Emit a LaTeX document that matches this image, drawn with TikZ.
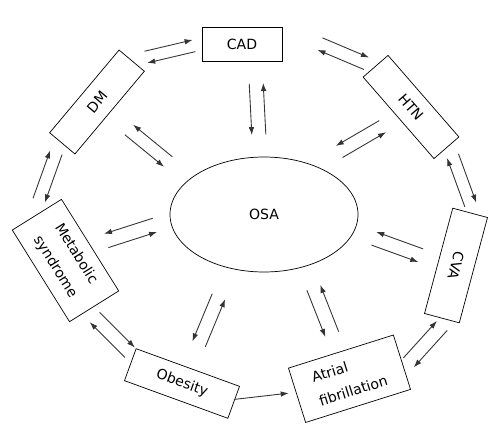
\documentclass[tikz,border=0pt]{standalone}
\usepackage{fontspec}
\setmainfont{DejaVu Sans}
\usetikzlibrary{arrows.meta}
\usetikzlibrary{shapes.geometric}
\usetikzlibrary{calc}

\begin{document}
\begin{tikzpicture}
  \tikzset{box/.style = {shape=rectangle,draw,minimum width=2.16cm,minimum height=0.66cm,inner sep=1pt,font=\fontsize{8}{14}\selectfont}}
  \tikzset{link/.style = {-{Latex[length=1.6mm,width=1.1mm]},line width=0.5pt,black!80}}

  \useasboundingbox (0,0) rectangle (10,8.72);

	\node[draw,ellipse,minimum width=3.76cm,minimum height=2.3cm,font=\fontsize{8}{14}\selectfont] (OSA) at (5.28,4.43) {OSA};
	\node[box,minimum width=1.6cm,minimum height=0.68cm] (CAD) at (4.84,7.84) {CAD};
	\node[box,rotate=50] (DM) at (1.94,6.68) {DM};
	\node[box,rotate=-49] (HTN) at (8.22,6.58) {HTN};
	\node[box,rotate=-105,minimum width=2.18cm,minimum height=0.72cm] (CVA) at (9.12,3.41) {CVA};
	\node[box,rotate=-58,minimum height=1.16cm,align=center] (MS) at (1.31,3.51) {Metabolic\\syndrome};
	\node[box,rotate=-20,minimum width=2.2cm,minimum height=0.68cm] (OB) at (3.64,1.05) {Obesity};
	\node[box,rotate=17.5,minimum width=2.2cm,minimum height=1.14cm,align=left] (AF) at (6.99,1.145) {Atrial\\fibrillation};

	\foreach \from/\to/\ia/\ib/\oa/\ob in {DM.east/CAD.west/0.2/0.89/1.2/-1.2,
	    CAD.north east/HTN.west/0.41/0.91/1.06/-1.54,
	    CAD.-53/OSA.94/0.23/0.77/-1.4/1.4,
	    DM.south/OSA.154/0.246/0.734/-1.5/1.1,
	    HTN.south/OSA.43/0.186/0.713/-1.48/1.2,
	    HTN.east/CVA.west/0.139/0.896/1.82/-0.62,
	    CVA.south/OSA.-10/0.206/0.767/-1.2/1.6,
	    CVA.east/AF.east/0.087/0.935/2.4/-0.4,
	    OSA.-50/AF.north/0.245/0.793/-1.84/1.04,
	    OSA.-123/OB.north/0.281/0.762/-1.16/1.64,
	    MS.north/OSA.183/0.195/0.807/-1.6/1.28,
	    DM.west/MS.west/0.138/0.814/0.74/-1.78,
	    MS.east/OB.north west/0.132/0.979/-0.05/-2.85}
	{
	  \draw[link] ($(\from)!\ia!(\to)!\oa mm!90:(\to)$) -- ($(\from)!\ib!(\to)!\oa mm!90:(\to)$);
	  \draw[link] ($(\from)!\ib!(\to)!\ob mm!90:(\to)$) -- ($(\from)!\ia!(\to)!\ob mm!90:(\to)$);
	}

	\draw[link] ([yshift=0.6mm]OB.east) -- ([xshift=-1.6mm,yshift=0.45mm]AF.west);
\end{tikzpicture}
\end{document}
